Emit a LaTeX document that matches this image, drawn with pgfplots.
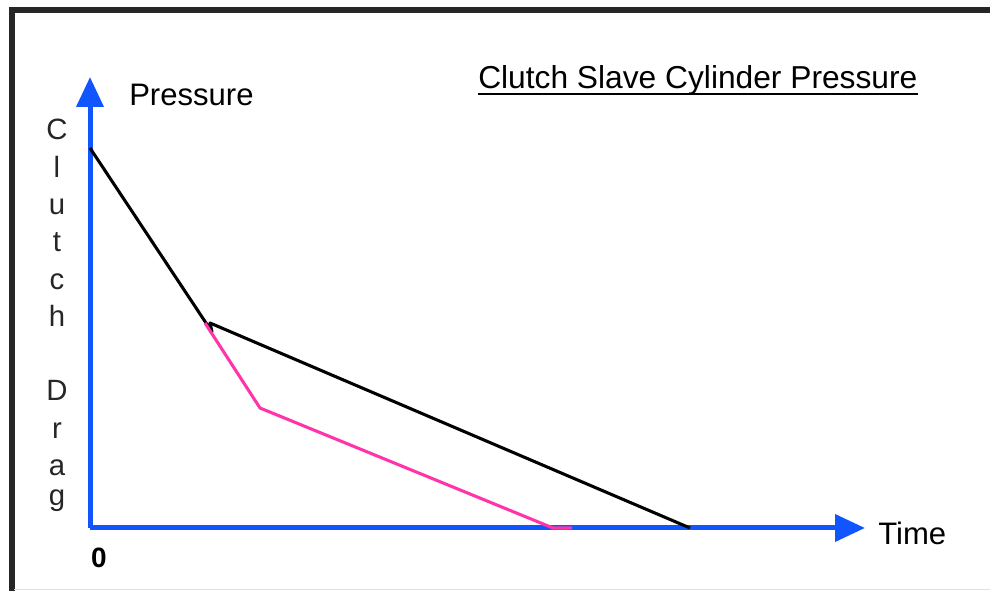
\documentclass[border=0pt]{standalone}
\usepackage{fontspec}
\setmainfont{Liberation Sans}
\usepackage{pgfplots}
\pgfplotsset{compat=1.18}
\usetikzlibrary{arrows.meta}
\definecolor{axisblue}{HTML}{1155FF}
\definecolor{linepink}{HTML}{FF33AA}
\begin{document}
\begin{tikzpicture}
\begin{scope}[x=0.75pt,y=-0.75pt]
  \path[use as bounding box] (0,0) rectangle (990,591);
  % frame
  \draw[black!85, line width=4.5pt] (11.5,591) -- (11.5,10) -- (990,10);
  \draw[black!12, line width=1pt] (14,589.5) -- (990,589.5);
  % title
  \node[anchor=base west, inner sep=0pt, font=\fontsize{23.8}{28}\selectfont] at (478,89) {Clutch Slave Cylinder Pressure};
  \draw[black, line width=1.1pt] (478,94) -- (918,94);
  % labels
  \node[anchor=base west, inner sep=0pt, font=\fontsize{23.3}{28}\selectfont] at (129,106) {Pressure};
  \node[anchor=base west, inner sep=0pt, font=\fontsize{23.3}{28}\selectfont] at (878,545) {Time};
  \node[anchor=base, inner sep=0pt, font=\fontsize{21}{25}\selectfont\bfseries] at (99,568) {0};
  \foreach \c/\yy in {C/140, l/178, u/215, t/252, c/290, h/327, D/401, r/439, a/476, g/506}
    \node[anchor=base, inner sep=0pt, text=black!85, font=\fontsize{22}{26}\selectfont] at (57,\yy) {\c};
\end{scope}
\begin{axis}[
  at={(67.5pt,-396pt)}, anchor=south west,
  scale only axis, width=581.25pt, height=338.25pt,
  xmin=0, xmax=775, ymin=0, ymax=451,
  axis lines=left,
  axis line style={axisblue, line width=3.75pt, -{Triangle[length=22.5pt,width=20pt]}},
  xtick=\empty, ytick=\empty,
  clip=false,
]
\addplot[black, line width=2.3pt, line join=round] coordinates {(0,380) (122,196) (120,205) (600,0)};
\addplot[linepink, line width=2.3pt, line join=round] coordinates {(115,205) (170,120) (463,0) (482,0)};
\end{axis}
\end{tikzpicture}
\end{document}
